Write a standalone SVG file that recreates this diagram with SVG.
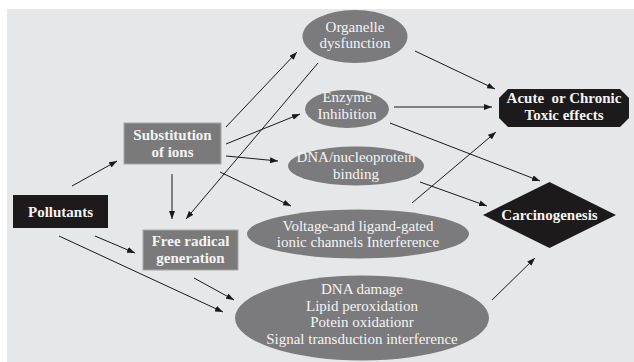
<svg xmlns="http://www.w3.org/2000/svg" width="634" height="362" viewBox="0 0 634 362">
<defs>
<marker id="ah" viewBox="0 0 8 6" refX="8" refY="3" markerWidth="8" markerHeight="6" markerUnits="userSpaceOnUse" orient="auto">
<path d="M0,0 L8,3 L0,6 Z" fill="#1a1a1a"/>
</marker>
<style>
.bg{fill:#e6e7e9}
.ell{fill:#7b7b7d}
.box{fill:#7a7a7a;stroke:#a8a8a8;stroke-width:1}
.blk{fill:#1c1a1b}
.t{font-family:'Liberation Serif','Times New Roman',Times,'DejaVu Serif',serif;font-size:15px;fill:#f4f4f4;text-anchor:middle}
.b{font-weight:bold}
.c line{stroke:#1a1a1a;stroke-width:1;marker-end:url(#ah)}
</style>
</defs>
<rect class="bg" x="7" y="9" width="627" height="353"/>
<g id="organelle"><ellipse class="ell" cx="355" cy="36.5" rx="52.5" ry="26.5"/><text class="t" x="355" y="32">Organelle</text><text class="t" x="355" y="48">dysfunction</text></g>
<g id="enzyme"><ellipse class="ell" cx="347" cy="109" rx="42" ry="19"/><text class="t" x="347" y="102">Enzyme</text><text class="t" x="347" y="119">Inhibition</text></g>
<g id="dna-binding"><ellipse class="ell" cx="356" cy="166" rx="68" ry="19.5"/><text class="t" x="356" y="162">DNA/nucleoprotein</text><text class="t" x="356" y="179">binding</text></g>
<g id="voltage"><ellipse class="ell" cx="358" cy="234" rx="111" ry="24.5"/><text class="t" x="358" y="231">Voltage-and ligand-gated</text><text class="t" x="358" y="247">ionic channels Interference</text></g>
<g id="damage"><ellipse class="ell" cx="362" cy="318" rx="127" ry="42.5"/><text class="t" x="362" y="294">DNA damage</text><text class="t" x="362" y="311">Lipid peroxidation</text><text class="t" x="362" y="327">Potein oxidationr</text><text class="t" x="362" y="344">Signal transduction interference</text></g>
<g id="substitution"><rect class="box" x="124" y="123" width="97" height="41"/><text class="t b" x="172.5" y="140">Substitution</text><text class="t b" x="172.5" y="157">of ions</text></g>
<g id="pollutants"><rect class="blk" x="13" y="195" width="95" height="33"/><text class="t b" x="60.5" y="217">Pollutants</text></g>
<g id="free-radical"><rect class="box" x="143" y="230" width="95" height="40"/><text class="t b" x="190.5" y="246">Free radical</text><text class="t b" x="190.5" y="263">generation</text></g>
<g id="acute"><polygon class="blk" points="508,89 620,89 629,98 629,118 620,127 508,127 499,118 499,98"/><text class="t b" x="564" y="103" xml:space="preserve">Acute  or Chronic</text><text class="t b" x="564" y="120">Toxic effects</text></g>
<g id="carcinogenesis"><polygon class="blk" points="549.5,182 616,215 549.5,248 483,215"/><text class="t b" x="549.5" y="220">Carcinogenesis</text></g>
<g id="connectors" class="c">
<line x1="72" y1="186" x2="117" y2="161"/>
<line x1="95" y1="236" x2="135" y2="253"/>
<line x1="59" y1="236" x2="223" y2="312"/>
<line x1="194" y1="278" x2="234" y2="300"/>
<line x1="172" y1="174" x2="172" y2="219"/>
<line x1="318" y1="63" x2="186" y2="219"/>
<line x1="226" y1="127" x2="297" y2="52"/>
<line x1="226" y1="144" x2="300" y2="114"/>
<line x1="226" y1="156" x2="278" y2="161"/>
<line x1="220" y1="172" x2="291" y2="206"/>
<line x1="415" y1="51" x2="495" y2="89"/>
<line x1="394" y1="107" x2="492" y2="107"/>
<line x1="390" y1="123" x2="540" y2="181"/>
<line x1="420" y1="182" x2="487" y2="206"/>
<line x1="412" y1="203" x2="496" y2="132"/>
<line x1="492" y1="300" x2="535" y2="258"/>
</g>
</svg>
